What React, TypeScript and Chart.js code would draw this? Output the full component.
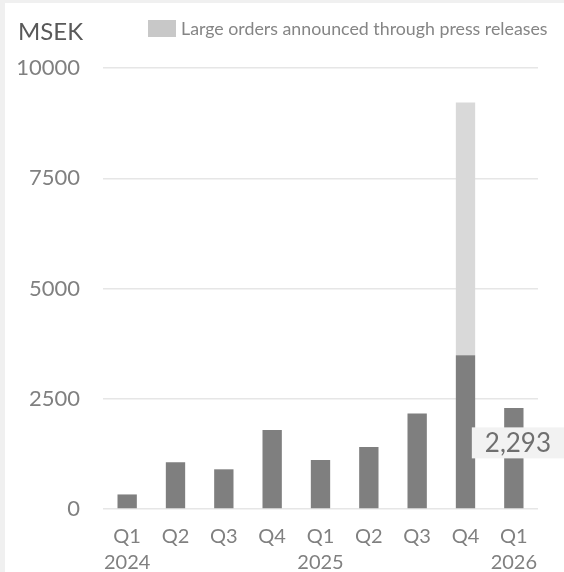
import React, { useEffect, useRef } from "react";
import { Chart, registerables } from "chart.js";

Chart.register(...registerables);

const quarters = ["Q1", "Q2", "Q3", "Q4", "Q1", "Q2", "Q3", "Q4", "Q1"];
const years = ["2024", "", "", "", "2025", "", "", "", "2026"];
const orderValues = [330, 1059, 900, 1792, 1113, 1407, 2167, 3489, 2293];
const largeOrderValues = [0, 0, 0, 0, 0, 0, 0, 5730, 0];
const yMin = 0;
const yMax = 10000;
const yStep = 2500;
const unitLabel = "MSEK";
const legendLabel = "Large orders announced through press releases";
const highlightLabel = "2,293";
const highlightIndex = 8;

const FONT = "Lato, 'Open Sans', sans-serif";
const TEXT = "#808080";

const overlayPlugin = {
  id: "overlay",
  afterDatasetsDraw(chart: any) {
    const ctx = chart.ctx;
    ctx.save();
    // unit title
    ctx.fillStyle = "#595959";
    ctx.font = `24px ${FONT}`;
    ctx.textAlign = "left";
    ctx.textBaseline = "middle";
    ctx.fillText(unitLabel, 13, 29);
    // legend
    ctx.fillStyle = "#c8c8c8";
    ctx.fillRect(143, 17, 28, 17);
    ctx.fillStyle = "#858585";
    ctx.font = `17.8px ${FONT}`;
    ctx.fillText(legendLabel, 176, 26);
    // highlight label on last bar
    const meta = chart.getDatasetMeta(0);
    const el = meta.data[highlightIndex];
    if (el) {
      const left = el.x - 42;
      const top = el.y + 19.5;
      ctx.fillStyle = "#f2f2f2";
      ctx.fillRect(left, top, chart.width - left, 31);
      ctx.fillStyle = "#6f6f6f";
      ctx.font = `26px ${FONT}`;
      ctx.textAlign = "center";
      ctx.textBaseline = "middle";
      ctx.fillText(highlightLabel, left + (chart.width - left) / 2, top + 16);
    }
    ctx.restore();
  },
};

export default function App() {
  const canvasRef = useRef<HTMLCanvasElement | null>(null);

  useEffect(() => {
    if (!canvasRef.current) return;
    const labels = quarters.map((q, i) => [q, years[i]]);
    const chart = new Chart(canvasRef.current, {
      type: "bar",
      data: {
        labels,
        datasets: [
          {
            label: "Order intake",
            data: orderValues,
            backgroundColor: "#7f7f7f",
            barPercentage: 0.8,
            categoryPercentage: 0.5,
          },
          {
            label: legendLabel,
            data: largeOrderValues,
            backgroundColor: "#d9d9d9",
            barPercentage: 0.8,
            categoryPercentage: 0.5,
          },
        ],
      },
      options: {
        animation: false,
        responsive: true,
        maintainAspectRatio: false,
        layout: { padding: { top: 65, right: 26, left: 0, bottom: 0 } },
        plugins: {
          legend: { display: false },
          tooltip: { enabled: false },
        },
        scales: {
          x: {
            stacked: true,
            grid: { display: false, drawTicks: false },
            border: { display: false },
            ticks: {
              color: TEXT,
              font: { family: FONT, size: 20, lineHeight: 1.3 },
              padding: 15,
              maxRotation: 0,
              autoSkip: false,
            },
            afterFit: (s: any) => {
              s.height = 63;
            },
          },
          y: {
            stacked: true,
            min: yMin,
            max: yMax,
            grid: { color: "#e6e6e6", lineWidth: 1.5, drawTicks: false },
            border: { display: false },
            ticks: {
              stepSize: yStep,
              color: TEXT,
              font: { family: FONT, size: 22 },
              padding: 23,
              callback: (v: any) => String(v),
            },
            afterFit: (s: any) => {
              s.width = 98;
            },
          },
        },
      },
      plugins: [overlayPlugin],
    });
    return () => chart.destroy();
  }, []);

  return (
    <div style={{ position: "fixed", inset: 0, background: "#f0f0f0" }}>
      <div
        style={{
          position: "absolute",
          left: 5,
          top: 3,
          width: 559,
          height: 569,
          background: "#ffffff",
        }}
      >
        <canvas ref={canvasRef} />
      </div>
    </div>
  );
}
